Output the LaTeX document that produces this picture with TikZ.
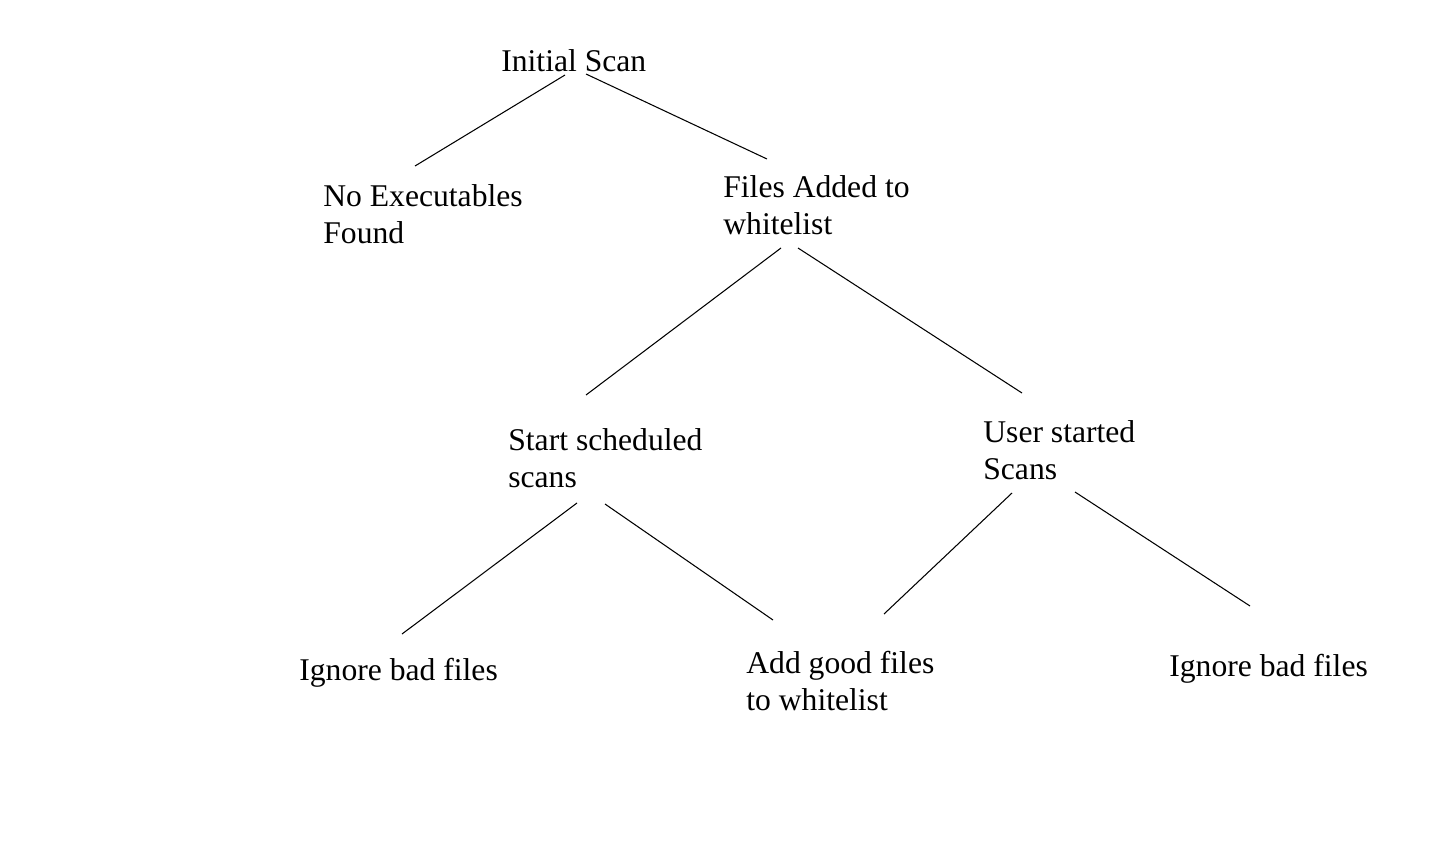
\documentclass[tikz,border=0pt]{standalone}
\usepackage{fontspec}
\setmainfont{Liberation Serif}
\usetikzlibrary{positioning}

\begin{document}
\begin{tikzpicture}[
  x=0.02cm, y=-0.02cm,
  label/.style ={anchor=base west, align=left, inner sep=0pt,
                 font=\fontsize{18}{20.5}\selectfont},
  branch/.style={draw=black, line width=0.6pt},
]
\useasboundingbox (0,0) rectangle (1435,842);

% ----- Level 0 -----
\node[label] (INIT) at (501,71) {Initial Scan};

% ----- Level 1 (placed at the last baseline) -----
\node[label] (NOEXE) at (323,243) {No Executables\\Found};
\node[label] (FILES) at (723,234) {Files Added to\\whitelist};

% ----- Level 2 -----
\node[label] (SCHED) at (508,487) {Start scheduled\\scans};
\node[label] (USER)  at (983,479) {User started\\Scans};

% ----- Level 3 -----
\node[label] (IGNL) at (299,680)  {Ignore bad files};
\node[label] (ADDG) at (746,710)  {Add good files\\to whitelist};
\node[label] (IGNR) at (1169,676) {Ignore bad files};

% ----- Branches -----
\draw[branch] ([shift={(64,4)}]INIT.base west)   -- ([shift={(92,-77)}]NOEXE.base west);
\draw[branch] ([shift={(85,3)}]INIT.base west)   -- ([shift={(44,-75)}]FILES.base west);
\draw[branch] ([shift={(58,14)}]FILES.base west) -- ([shift={(78,-92)}]SCHED.base west);
\draw[branch] ([shift={(75,14)}]FILES.base west) -- ([shift={(39,-86)}]USER.base west);
\draw[branch] ([shift={(69,16)}]SCHED.base west) -- ([shift={(103,-46)}]IGNL.base west);
\draw[branch] ([shift={(97,17)}]SCHED.base west) -- ([shift={(27,-90)}]ADDG.base west);
\draw[branch] ([shift={(29,14)}]USER.base west)  -- ([shift={(138,-96)}]ADDG.base west);
\draw[branch] ([shift={(92,13)}]USER.base west)  -- ([shift={(81,-70)}]IGNR.base west);

\end{tikzpicture}
\end{document}
